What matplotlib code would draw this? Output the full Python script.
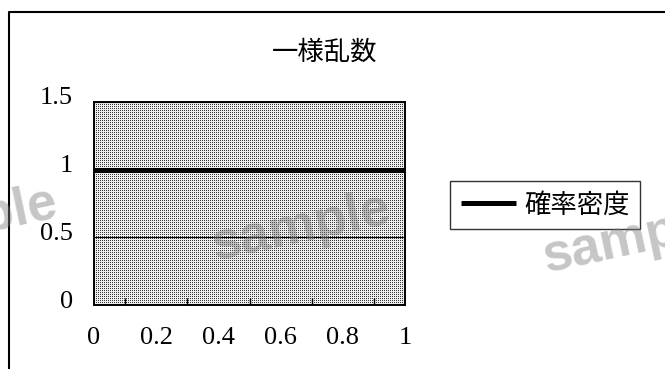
import numpy as np
import matplotlib
matplotlib.use("Agg")
import matplotlib.pyplot as plt
from matplotlib.lines import Line2D
from matplotlib.transforms import ScaledTranslation

# Uniform distribution density on [0, 1]
x_values = [0.0, 1.0]
density = [1.0, 1.0]
series_name = "確率密度"
title_text = "一様乱数"
x_ticks = [0.0, 0.2, 0.4, 0.6, 0.8, 1.0]
x_tick_labels = ["0", "0.2", "0.4", "0.6", "0.8", "1"]
x_minor_ticks = [0.1, 0.2, 0.3, 0.4, 0.5, 0.6, 0.7, 0.8, 0.9]
y_ticks = [0.0, 0.5, 1.0, 1.5]
y_tick_labels = ["0", "0.5", "1", "1.5"]

W, H, DPI = 665, 369, 100
fig = plt.figure(figsize=(W / DPI, H / DPI), dpi=DPI)
fig.patch.set_facecolor("white")

serif = ["Liberation Serif", "DejaVu Serif"]
cjk = ["Noto Sans CJK JP", "DejaVu Sans"]

# plot area in pixels
ax_l, ax_r, ax_t, ax_b = 94, 405, 102, 305
ax = fig.add_axes([ax_l / W, 1 - ax_b / H, (ax_r - ax_l) / W, (ax_b - ax_t) / H])
ax.set_facecolor("none")

# dotted (stippled) background for the plot area
ph, pw = ax_b - ax_t, ax_r - ax_l
ii, jj = np.mgrid[0:ph, 0:pw]
dots = (ii % 2 == 0) & (jj % 2 == 0)
pattern = np.where(dots, 0.22, 0.93)
rgb = np.dstack([pattern, pattern, pattern])
fig.figimage(rgb, xo=ax_l, yo=H - ax_b, origin="upper", zorder=-1)

ax.plot(x_values, density, color="black", lw=3.6, solid_capstyle="butt",
        label=series_name, zorder=3)

ax.set_xlim(0, 1)
ax.set_ylim(0, 1.5)
ax.set_yticks(y_ticks)
ax.set_yticklabels(y_tick_labels, fontfamily=serif, fontsize=19)
ax.set_xticks(x_ticks)
ax.set_xticklabels(x_tick_labels, fontfamily=serif, fontsize=19)
ax.set_xticks(x_minor_ticks, minor=True)
ax.tick_params(axis="y", length=0, pad=15)
ax.tick_params(axis="x", which="major", length=0, pad=16)
ax.tick_params(axis="x", which="minor", direction="in", length=5, width=1, color="black")
ax.yaxis.grid(True, color="black", lw=0.8)
ax.set_axisbelow(False)
for s in ax.spines.values():
    s.set_color("black")
    s.set_linewidth(1.4)
    s.set_zorder(4)

# y labels sit slightly above their gridlines
shift = ScaledTranslation(0, 0.06, fig.dpi_scale_trans)
for lab in ax.get_yticklabels():
    lab.set_transform(lab.get_transform() + shift)

fig.text(325 / W, 1 - 52 / H, title_text, fontfamily=cjk, fontsize=19,
         ha="center", va="center")

leg = ax.legend(loc="center", bbox_to_anchor=(545 / W, 1 - 205 / H),
                bbox_transform=fig.transFigure, prop={"family": cjk, "size": 19},
                frameon=True, fancybox=False, shadow=False, handlelength=2.1,
                handletextpad=0.3, borderpad=0.4, borderaxespad=0)
leg.get_frame().set_edgecolor("black")
leg.get_frame().set_linewidth(1.0)

# outer chart border (left and top edges)
fig.add_artist(Line2D([8.5 / W, 8.5 / W, 1.0], [0.0, 1 - 12 / H, 1 - 12 / H],
                      transform=fig.transFigure, color="black", lw=1.5))

# watermark
for cx, cy in [(-32, 222), (301, 228), (632, 240)]:
    fig.text(cx / W, 1 - cy / H, "sample", fontfamily="Liberation Sans",
             fontweight="bold", fontsize=38, color="#808080", alpha=0.45,
             rotation=12, ha="center", va="center", zorder=10)

fig.savefig("out.png", dpi=DPI)
